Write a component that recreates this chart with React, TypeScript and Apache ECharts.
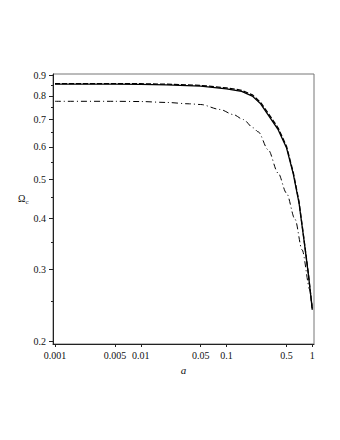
import React, { useEffect, useRef } from "react";
import * as echarts from "echarts";

// tick labels
const xTickValues = [0.001, 0.005, 0.01, 0.05, 0.1, 0.5, 1];
const yTickValues = [0.2, 0.3, 0.4, 0.5, 0.6, 0.7, 0.8, 0.9];
const yMinorTickValues = [0.25, 0.35, 0.45, 0.55, 0.65, 0.75, 0.85];
const xRange = [0.000948, 1.047];
const yRange = [0.1967, 0.9056];

// solid curve
const solidA = [0.001, 0.005, 0.01, 0.02, 0.05, 0.1, 0.15, 0.2, 0.25, 0.3, 0.4, 0.5, 0.6, 0.7, 0.8, 0.9, 1];
const solidOmega = [0.855, 0.855, 0.854, 0.852, 0.846, 0.833, 0.821, 0.799, 0.765, 0.723, 0.661, 0.597, 0.515, 0.437, 0.354, 0.292, 0.239];

// dashed curve
const dashedA = [0.001, 0.005, 0.01, 0.02, 0.05, 0.1, 0.15, 0.2, 0.25, 0.3, 0.4, 0.5, 0.6, 0.7, 0.8, 0.9, 1];
const dashedOmega = [0.858, 0.858, 0.857, 0.855, 0.849, 0.837, 0.826, 0.805, 0.771, 0.73, 0.667, 0.602, 0.519, 0.44, 0.356, 0.293, 0.239];

// dash-dot curve
const dashDotA = [0.001, 0.005, 0.01, 0.02, 0.037, 0.05, 0.084, 0.12, 0.157, 0.205, 0.234, 0.306, 0.4, 0.5, 0.63, 0.76, 0.94, 1];
const dashDotOmega = [0.776, 0.776, 0.775, 0.771, 0.765, 0.762, 0.741, 0.72, 0.7, 0.668, 0.653, 0.59, 0.517, 0.462, 0.398, 0.335, 0.267, 0.239];

const FONT = "'Liberation Serif', 'Times New Roman', serif";
const GRID = { left: 53, right: 26, top: 74, bottom: 96 };
const CHART_W = 340;

export default function App() {
  const ref = useRef<HTMLDivElement>(null);

  useEffect(() => {
    if (!ref.current) return;
    const chart = echarts.init(ref.current, null, { renderer: "svg" });
    const lg = (v: number) => Math.log10(v);
    const pts = (xs: number[], ys: number[]) => xs.map((x, i) => [lg(x), lg(ys[i])]);
    const fmt = (v: number) => String(Number(Math.pow(10, v).toPrecision(2)));
    const axisColor = "#222";
    const labelStyle = { color: "#111", fontSize: 10, fontFamily: FONT };
    const gridWidth = CHART_W - GRID.left - GRID.right;

    chart.setOption({
      animation: false,
      backgroundColor: "#fff",
      grid: {
        ...GRID,
        show: true,
        borderColor: "#777",
        borderWidth: 1,
        backgroundColor: "transparent",
        containLabel: false,
        outerBoundsMode: "none",
      },
      xAxis: {
        type: "value",
        min: lg(xRange[0]),
        max: lg(xRange[1]),
        name: "a",
        nameLocation: "middle",
        nameGap: 15,
        nameTextStyle: { fontStyle: "italic", fontFamily: FONT, fontSize: 11, color: "#111" },
        axisLine: { show: true, onZero: false, lineStyle: { color: axisColor, width: 1 } },
        axisTick: { show: true, customValues: xTickValues.map(lg), length: 3, lineStyle: { color: axisColor } },
        axisLabel: { customValues: xTickValues.map(lg), formatter: fmt, margin: 6, ...labelStyle },
        splitLine: { show: false },
      },
      yAxis: [
        {
          type: "value",
          position: "left",
          min: lg(yRange[0]),
          max: lg(yRange[1]),
          axisLine: { show: true, onZero: false, lineStyle: { color: axisColor, width: 1 } },
          axisTick: { show: true, customValues: yTickValues.map(lg), length: 4, lineStyle: { color: axisColor } },
          axisLabel: { customValues: yTickValues.map(lg), formatter: fmt, margin: 7, ...labelStyle },
          splitLine: { show: false },
        },
        {
          // minor ticks, drawn on the left edge
          type: "value",
          position: "right",
          offset: -gridWidth,
          min: lg(yRange[0]),
          max: lg(yRange[1]),
          axisLine: { show: false, onZero: false },
          axisTick: { show: true, inside: true, customValues: yMinorTickValues.map(lg), length: 2, lineStyle: { color: axisColor } },
          axisLabel: { show: false },
          splitLine: { show: false },
        },
      ],
      graphic: [
        {
          type: "text",
          x: 18,
          y: 198,
          style: { text: "Ω", font: `10px ${FONT}`, fill: "#111", align: "left", verticalAlign: "middle" },
        },
        {
          type: "text",
          x: 25.5,
          y: 202,
          style: { text: "c", font: `7px ${FONT}`, fill: "#111", align: "left", verticalAlign: "middle" },
        },
      ],
      series: [
        {
          type: "line",
          name: "solid",
          data: pts(solidA, solidOmega),
          showSymbol: false,
          lineStyle: { color: "#000", width: 1.3, type: "solid" },
        },
        {
          type: "line",
          name: "dashed",
          data: pts(dashedA, dashedOmega),
          showSymbol: false,
          lineStyle: { color: "#000", width: 1.3, type: [5, 2] },
        },
        {
          type: "line",
          name: "dashdot",
          data: pts(dashDotA, dashDotOmega),
          showSymbol: false,
          smooth: 0.3,
          smoothMonotone: "x",
          lineStyle: { color: "#000", width: 1, type: [6, 3, 1, 3] },
        },
      ],
    });

    return () => chart.dispose();
  }, []);

  return (
    <div
      ref={ref}
      style={{ position: "absolute", left: 0, top: 0, width: CHART_W, height: 440, background: "#fff" }}
    />
  );
}
